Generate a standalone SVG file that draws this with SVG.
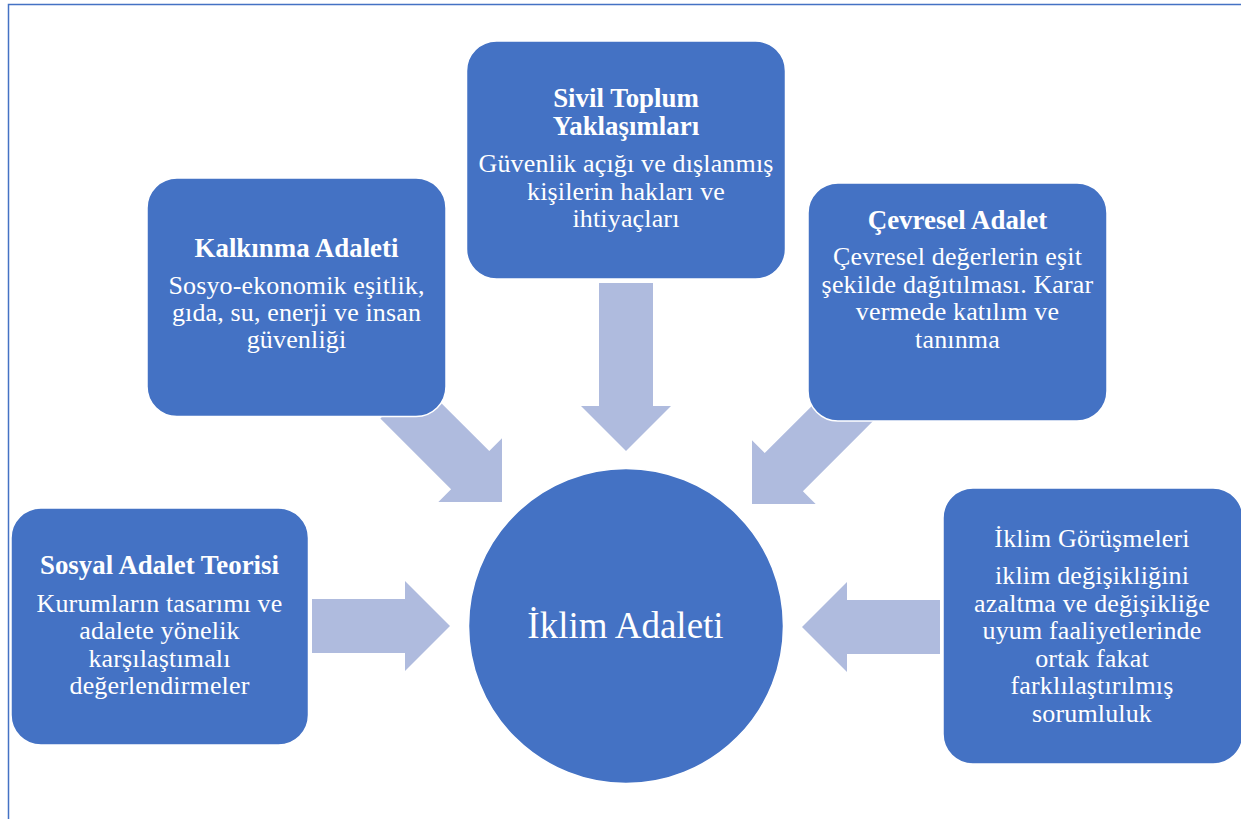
<svg xmlns="http://www.w3.org/2000/svg" width="1241" height="819" viewBox="0 0 1241 819">
<defs>
<style>
.box{fill:#4472C4;stroke:#FFFFFF;stroke-width:1.5}
.arr{fill:#AFBBDE}
text{font-family:'Liberation Serif','DejaVu Serif',serif;fill:#FFFFFF;text-anchor:middle;font-size:26px;letter-spacing:0.15px}
.t{font-weight:bold;font-size:26.9px;letter-spacing:0}
.big{font-size:37px;letter-spacing:0}
</style>
</defs>
<rect x="8.5" y="4.5" width="1240" height="820" fill="#FFFFFF" stroke="#4472C4" stroke-width="1.5"/>
<g id="connectors">
<polygon class="arr" transform="translate(626,451) rotate(90)" points="-168,-27 -45,-27 -45,-45 0,0 -45,45 -45,27 -168,27"/>
<polygon class="arr" transform="translate(502,502) rotate(45)" points="-145,-27 -45,-27 -45,-45 0,0 -45,45 -45,27 -145,27"/>
<polygon class="arr" transform="translate(752,504) rotate(135)" points="-145,-27 -45,-27 -45,-45 0,0 -45,45 -45,27 -145,27"/>
<polygon class="arr" transform="translate(450,626)" points="-138,-27 -45,-27 -45,-45 0,0 -45,45 -45,27 -138,27"/>
<polygon class="arr" transform="translate(802,627) rotate(180)" points="-138,-27 -45,-27 -45,-45 0,0 -45,45 -45,27 -138,27"/>
</g>
<g id="sivil">
<rect class="box" x="466.5" y="41" width="319" height="238" rx="30"/>
<text class="t" x="626" y="107">Sivil Toplum</text>
<text class="t" x="626" y="135">Yaklaşımları</text>
<text x="626" y="172">Güvenlik açığı ve dışlanmış</text>
<text x="626" y="199.5">kişilerin hakları ve</text>
<text x="626" y="227">ihtiyaçları</text>
</g>
<g id="kalkinma">
<rect class="box" x="147" y="178" width="299" height="238.5" rx="30"/>
<text class="t" x="296.5" y="257">Kalkınma Adaleti</text>
<text x="296.5" y="293.5">Sosyo-ekonomik eşitlik,</text>
<text x="296.5" y="320.5">gıda, su, enerji ve insan</text>
<text x="296.5" y="347.5">güvenliği</text>
</g>
<g id="cevresel">
<rect class="box" x="808" y="183" width="299" height="238" rx="30"/>
<text class="t" x="957.5" y="228.5">Çevresel Adalet</text>
<text x="957.5" y="265">Çevresel değerlerin eşit</text>
<text x="957.5" y="292.5">şekilde dağıtılması. Karar</text>
<text x="957.5" y="320">vermede katılım ve</text>
<text x="957.5" y="347.5">tanınma</text>
</g>
<g id="sosyal">
<rect class="box" x="11" y="508" width="297.5" height="237" rx="30"/>
<text class="t" x="159.5" y="573.5">Sosyal Adalet Teorisi</text>
<text x="159.5" y="611.5">Kurumların tasarımı ve</text>
<text x="159.5" y="639">adalete yönelik</text>
<text x="159.5" y="666.5">karşılaştımalı</text>
<text x="159.5" y="694">değerlendirmeler</text>
</g>
<g id="gorusmeler">
<rect class="box" x="943" y="488" width="300" height="276" rx="30"/>
<text x="1092" y="546.5">İklim Görüşmeleri</text>
<text x="1092" y="584">iklim değişikliğini</text>
<text x="1092" y="611.5">azaltma ve değişikliğe</text>
<text x="1092" y="639">uyum faaliyetlerinde</text>
<text x="1092" y="667">ortak fakat</text>
<text x="1092" y="694">farklılaştırılmış</text>
<text x="1092" y="721.5">sorumluluk</text>
</g>
<g id="iklim-adaleti">
<circle class="box" cx="626" cy="626" r="157.5"/>
<text class="big" x="625.5" y="637.5">İklim Adaleti</text>
</g>
</svg>
